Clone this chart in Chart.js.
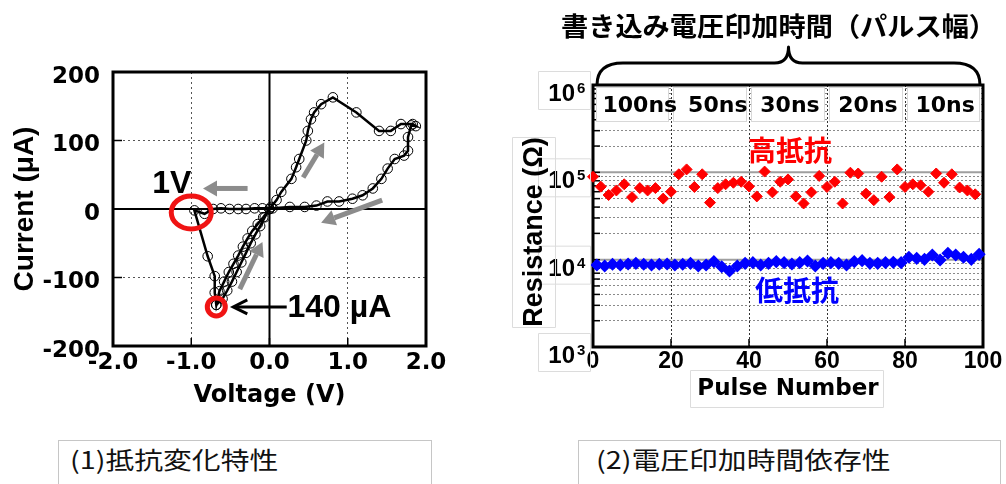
<!DOCTYPE html>
<html>
<head>
<meta charset="utf-8">
<script src="https://cdn.jsdelivr.net/npm/chart.js@4.4.0/dist/chart.umd.min.js"></script>
<style>
  html, body { margin: 0; padding: 0; background: #fff; }
  body { width: 1006px; height: 484px; position: relative; overflow: hidden; }
  .panel { position: absolute; top: 0; height: 420px; }
  #ivWrap { left: 0; width: 500px; }
  #pulseWrap { left: 500px; width: 506px; }
  .caption { position: absolute; top: 440px; height: 60px; border: 1px solid #c6c6c6; box-sizing: border-box; }
  .caption span { position: absolute; top: 4px; display: inline-block; font: 24px "Noto Sans CJK JP", sans-serif;
                  line-height: 28px; color: #111; white-space: nowrap; transform: scaleX(1.2); transform-origin: 0 50%; }
</style>
</head>
<body>
<div class="panel" id="ivWrap"><canvas id="iv"></canvas></div>
<div class="panel" id="pulseWrap"><canvas id="pulse"></canvas></div>
<div class="caption" style="left:58px;width:374px"><span style="left:11px">(1)抵抗変化特性</span></div>
<div class="caption" style="left:578px;width:423px"><span style="left:17px">(2)電圧印加時間依存性</span></div>

<script>
// ---- I-V sweep (voltage in V, current in µA) ----
const sweepVoltage = [0, 0.02, 0.09, 0.15, 0.28, 0.34, 0.38, 0.47, 0.49, 0.53, 0.57, 0.66, 0.81, 1.11, 1.40, 1.55, 1.68, 1.83, 1.87,
  1.81, 1.77, 1.77, 1.72, 1.60, 1.51, 1.43, 1.32, 1.19, 1.06, 0.89, 0.74, 0.60, 0.45, 0.26, 0.04,
  -0.09, -0.19, -0.30, -0.40, -0.51, -0.62, -0.72, -0.83, -0.96,
  -0.79, -0.70, -0.70, -0.68,
  -0.64, -0.58, -0.52, -0.46, -0.40, -0.34, -0.28, -0.22, -0.15, -0.08, 0];
const sweepCurrent = [0, 3, 13, 25, 44, 61, 73, 100, 114, 131, 141, 153, 163, 141, 114, 114, 124, 124, 121,
  122, 105, 85, 78, 73, 59, 44, 30, 20, 15, 11, 11, 5, 3, 3, 1,
  1, 1, 0, 0, 0, 1, 0, -7, -2,
  -69, -98, -122, -140,
  -120, -106, -92, -80, -68, -55, -43, -32, -22, -12, 0];
// second pass of the SET branch back to 0 V
const returnVoltage = [-0.68, -0.60, -0.54, -0.48, -0.42, -0.36, -0.30, -0.24, -0.18, -0.12, -0.06, 0];
const returnCurrent = [-140, -131, -119, -106, -92, -78, -64, -50, -37, -25, -12, 0];
const voltageTicks = [-2, -1, 0, 1, 2];
const currentTicks = [-200, -100, 0, 100, 200];

// ---- pulse endurance (Ω) ----
const highPulse = [0, 2, 4, 6, 8, 10, 12, 14, 16, 18, 20, 22, 24, 26, 28, 30, 32, 34, 36, 38, 40, 42, 44, 46, 48,
  50, 52, 54, 56, 58, 60, 62, 64, 66, 68, 70, 72, 74, 76, 78, 80, 82, 84, 86, 88, 90, 92, 94, 96, 98];
const highResistance = [89000, 68500, 55000, 62000, 73000, 52000, 66000, 62000, 66000, 50000, 60000, 95000, 108000,
  68000, 95000, 45000, 66000, 73000, 76000, 78000, 69000, 53000, 102000, 59000, 78000, 83000, 53000, 44000, 59000,
  91000, 68000, 78000, 44000, 99000, 97000, 57000, 48000, 89000, 52000, 108000, 68000, 73000, 71000, 60000, 97000,
  76000, 95000, 67000, 62000, 56000];
const lowPulse = [1, 3, 5, 7, 9, 11, 13, 15, 17, 19, 21, 23, 25, 27, 29, 31, 33, 35, 37, 39, 41, 43, 45, 47, 49,
  51, 53, 55, 57, 59, 61, 63, 65, 67, 69, 71, 73, 75, 77, 79, 81, 83, 85, 87, 89, 91, 93, 95, 97, 99];
const lowResistance = [8690, 8460, 8850, 8690, 8920, 9080, 8850, 8690, 8850, 8920, 8690, 8850, 9080, 8460, 8690,
  9490, 8310, 7420, 8460, 9080, 9240, 8690, 9080, 9490, 9240, 8920, 9240, 9660, 8460, 9080, 9240, 9080, 8690,
  9490, 9740, 9080, 9080, 9240, 9320, 9240, 10640, 10360, 10090, 11300, 9910, 11830, 11300, 10640, 10090, 11510];
const pulseWidthLabels = ['100ns', '50ns', '30ns', '20ns', '10ns'];
const pulseGroupEdges = [0, 20, 40, 60, 80, 100];
const resistanceDecades = [1e3, 1e4, 1e5, 1e6];
const decadeSteps = [1, 2, 3, 4, 5, 6, 7, 8, 9];

const BOLD_ARIAL = '"Liberation Sans", Arial, sans-serif';
const BOLD_WIDE = '"DejaVu Sans", Verdana, sans-serif';
const CJK = '"Noto Sans CJK JP", sans-serif';

function pairs(xs, ys) { return xs.map((x, i) => ({ x, y: ys[i] })); }

function filledArrow(ctx, x1, y1, x2, y2, color, width, headLen, headHalf) {
  const a = Math.atan2(y2 - y1, x2 - x1);
  const bx = x2 - Math.cos(a) * headLen, by = y2 - Math.sin(a) * headLen;
  ctx.strokeStyle = color; ctx.fillStyle = color; ctx.lineWidth = width;
  ctx.beginPath(); ctx.moveTo(x1, y1); ctx.lineTo(bx, by); ctx.stroke();
  ctx.beginPath(); ctx.moveTo(x2, y2);
  ctx.lineTo(bx + Math.sin(a) * headHalf, by - Math.cos(a) * headHalf);
  ctx.lineTo(bx - Math.sin(a) * headHalf, by + Math.cos(a) * headHalf);
  ctx.closePath(); ctx.fill();
}

// text squeezed or stretched horizontally to a given width
function fitText(ctx, text, cx, cy, width) {
  const w = ctx.measureText(text).width;
  ctx.save();
  ctx.translate(cx, cy);
  ctx.scale(width / w, 1);
  ctx.textAlign = 'center';
  ctx.fillText(text, 0, 0);
  ctx.restore();
}

// ---------------- left panel: I-V loop ----------------
const ivDecor = {
  id: 'ivDecor',
  beforeDatasetsDraw(chart) {
    const { ctx, chartArea: a, scales: { x, y } } = chart;
    ctx.save();
    ctx.strokeStyle = '#000';
    ctx.lineWidth = 2;
    const x0 = x.getPixelForValue(0), y0 = y.getPixelForValue(0);
    ctx.beginPath(); ctx.moveTo(x0, a.top); ctx.lineTo(x0, a.bottom); ctx.stroke();
    ctx.beginPath(); ctx.moveTo(a.left, y0); ctx.lineTo(a.right, y0); ctx.stroke();
    ctx.lineWidth = 1.5;
    y.ticks.forEach(t => {
      if (t.value <= y.min || t.value >= y.max) return;
      const py = y.getPixelForValue(t.value);
      ctx.beginPath(); ctx.moveTo(a.left, py); ctx.lineTo(a.left + 9, py); ctx.stroke();
    });
    x.ticks.forEach(t => {
      if (t.value <= x.min || t.value >= x.max) return;
      const px = x.getPixelForValue(t.value);
      ctx.beginPath(); ctx.moveTo(px, a.bottom); ctx.lineTo(px, a.bottom - 8); ctx.stroke();
    });
    ctx.lineWidth = 3;
    ctx.strokeRect(a.left, a.top, a.right - a.left, a.bottom - a.top);
    ctx.restore();
  },
  afterDatasetsDraw(chart) {
    const { ctx, scales: { x, y } } = chart;
    const X = v => x.getPixelForValue(v), Y = v => y.getPixelForValue(v);
    ctx.save();
    // sweep direction arrows
    const grey = '#8c8c8c';
    [[-0.28, 30, -0.85, 30], [0.43, 46, 0.70, 97], [1.44, 13, 0.66, -20], [-0.38, -117, -0.09, -48]]
      .forEach(([a1, b1, a2, b2]) => filledArrow(ctx, X(a1), Y(b1), X(a2), Y(b2), grey, 5, 14, 8));
    // RESET onset and SET compliance markers
    ctx.strokeStyle = '#f01414';
    ctx.lineWidth = 5;
    ctx.beginPath(); ctx.ellipse(X(-1.0), Y(-5), 20, 16.5, 0, 0, Math.PI * 2); ctx.stroke();
    const minI = Math.min(...sweepCurrent);
    const minV = sweepVoltage[sweepCurrent.indexOf(minI)];
    ctx.beginPath(); ctx.arc(X(minV), Y(minI) + 2, 9, 0, Math.PI * 2); ctx.stroke();
    // labels
    ctx.fillStyle = '#000';
    ctx.font = 'bold 32px ' + BOLD_ARIAL;
    ctx.textAlign = 'left'; ctx.textBaseline = 'alphabetic';
    ctx.fillText('1V', X(-1.5), Y(23));
    ctx.fillText(Math.abs(minI) + ' µA', X(0.23), Y(minI) + 12);
    // pointer to the compliance point
    const ty = Y(minI) + 2, tipX = X(minV) + 17, tailX = X(0.22);
    ctx.strokeStyle = '#000'; ctx.lineWidth = 3;
    ctx.beginPath(); ctx.moveTo(tailX, ty); ctx.lineTo(tipX + 1, ty); ctx.stroke();
    ctx.beginPath(); ctx.moveTo(tipX + 14, ty - 7); ctx.lineTo(tipX, ty); ctx.lineTo(tipX + 14, ty + 7); ctx.stroke();
    ctx.restore();
  }
};

new Chart(document.getElementById('iv'), {
  type: 'scatter',
  data: {
    datasets: [
      { data: pairs(sweepVoltage, sweepCurrent), showLine: true },
      { data: pairs(returnVoltage, returnCurrent), showLine: true }
    ].map(d => Object.assign(d, {
      borderColor: '#000', borderWidth: 2.5, pointRadius: 4.8, pointStyle: 'circle',
      pointBackgroundColor: 'rgba(0,0,0,0)', pointBorderColor: '#000', pointBorderWidth: 1, clip: false
    }))
  },
  options: {
    responsive: true, maintainAspectRatio: false, animation: false,
    layout: { padding: { top: 72, right: 74, bottom: 0, left: 0 } },
    plugins: { legend: { display: false }, tooltip: { enabled: false } },
    scales: {
      x: {
        type: 'linear', min: -2, max: 2,
        afterFit(s) { s.height = 74; },
        afterBuildTicks(s) { s.ticks = voltageTicks.map(v => ({ value: v })); },
        ticks: { padding: 3, color: '#000', maxRotation: 0, autoSkip: false,
                 font: { family: BOLD_WIDE, weight: 'bold', size: 23 }, callback: v => Number(v).toFixed(1) },
        grid: { drawTicks: false, lineWidth: 1, color: c => Math.abs(c.tick.value) === 1 ? '#555' : 'rgba(0,0,0,0)' },
        border: { display: false, dash: [2, 3] },
        title: { display: true, text: 'Voltage (V)', color: '#000',
                 font: { family: BOLD_WIDE, weight: 'bold', size: 24 }, padding: { top: 0, bottom: 10 } }
      },
      y: {
        type: 'linear', min: -200, max: 200,
        afterFit(s) { s.width = 113; },
        afterBuildTicks(s) { s.ticks = currentTicks.map(v => ({ value: v })); },
        ticks: { padding: 13, labelOffset: 5, color: '#000', font: { family: BOLD_WIDE, weight: 'bold', size: 23 },
                 callback: v => String(v) },
        grid: { drawTicks: false, lineWidth: 1, color: c => Math.abs(c.tick.value) === 100 ? '#555' : 'rgba(0,0,0,0)' },
        border: { display: false, dash: [2, 3] },
        title: { display: true, text: 'Current (μA)', color: '#000',
                 font: { family: BOLD_ARIAL, weight: 'bold', size: 28 }, padding: { top: 8, bottom: 0 } }
      }
    }
  },
  plugins: [ivDecor]
});

// ---------------- right panel: pulse endurance ----------------
const pulseDecor = {
  id: 'pulseDecor',
  beforeDatasetsDraw(chart) {
    const { ctx, chartArea: a, scales: { x, y } } = chart;
    ctx.save();
    // decade lines
    ctx.strokeStyle = '#9f9f9f'; ctx.lineWidth = 2;
    resistanceDecades.forEach(v => {
      if (v <= y.min || v >= y.max) return;
      const py = y.getPixelForValue(v);
      ctx.beginPath(); ctx.moveTo(a.left, py); ctx.lineTo(a.right, py); ctx.stroke();
    });
    // inward tick marks
    ctx.strokeStyle = '#000'; ctx.lineWidth = 1.5;
    y.ticks.forEach(t => {
      if (t.value <= y.min || t.value >= y.max) return;
      const py = y.getPixelForValue(t.value);
      ctx.beginPath(); ctx.moveTo(a.left, py); ctx.lineTo(a.left + 7, py); ctx.stroke();
    });
    x.ticks.forEach(t => {
      if (t.value <= x.min || t.value >= x.max) return;
      const px = x.getPixelForValue(t.value);
      ctx.beginPath(); ctx.moveTo(px, a.bottom); ctx.lineTo(px, a.bottom - 8); ctx.stroke();
    });
    // pulse-width band across the top decade
    const bandTop = a.top + 2, bandBottom = a.top + 37;
    const labelAt = [12, 32, 50.5, 70.5, 90.3];
    ctx.font = 'bold 22px ' + BOLD_WIDE;
    ctx.textAlign = 'center'; ctx.textBaseline = 'middle';
    for (let i = 0; i < pulseWidthLabels.length; i++) {
      const x0 = x.getPixelForValue(pulseGroupEdges[i]) + (i === 0 ? 3 : 2);
      const x1 = x.getPixelForValue(pulseGroupEdges[i + 1]) - (i === pulseWidthLabels.length - 1 ? 3 : 2);
      ctx.fillStyle = '#fff';
      ctx.fillRect(x0, bandTop, x1 - x0, bandBottom - bandTop);
      ctx.strokeStyle = '#d8d8d8'; ctx.lineWidth = 1;
      ctx.strokeRect(x0 + 0.5, bandTop + 0.5, x1 - x0 - 1, bandBottom - bandTop - 1);
    }
    ctx.fillStyle = '#000';
    pulseWidthLabels.forEach((t, i) => ctx.fillText(t, x.getPixelForValue(labelAt[i]), a.top + 21));
    // frame
    ctx.strokeStyle = '#000'; ctx.lineWidth = 3;
    ctx.strokeRect(a.left, a.top, a.right - a.left, a.bottom - a.top);
    ctx.restore();
  },
  afterDraw(chart) {
    const { ctx, chartArea: a, scales: { x, y } } = chart;
    ctx.save();
    // brace spanning all pulse widths
    const L = a.left + 4, R = a.right - 3, M = (L + R) / 2, arm = a.top - 22, peak = a.top - 38;
    ctx.strokeStyle = '#000'; ctx.lineWidth = 3; ctx.lineJoin = 'round';
    ctx.beginPath();
    ctx.moveTo(L, a.top);
    ctx.quadraticCurveTo(L, arm, L + 26, arm);
    ctx.lineTo(M - 14, arm);
    ctx.quadraticCurveTo(M, arm, M, peak);
    ctx.quadraticCurveTo(M, arm, M + 14, arm);
    ctx.lineTo(R - 26, arm);
    ctx.quadraticCurveTo(R, arm, R, a.top);
    ctx.stroke();
    ctx.fillStyle = '#000';
    ctx.font = 'bold 26px ' + CJK;
    ctx.textBaseline = 'middle';
    fitText(ctx, '書き込み電圧印加時間（パルス幅）', M - 10, 26, 435);

    // decade tick labels with superscripts
    ctx.strokeStyle = '#dcdcdc'; ctx.lineWidth = 1;
    resistanceDecades.forEach(v => {
      const py = y.getPixelForValue(v);
      ctx.strokeRect(38.5, py - 13.5, 52, 38);
    });
    ctx.fillStyle = '#000';
    resistanceDecades.forEach(v => {
      const py = y.getPixelForValue(v);
      ctx.textBaseline = 'alphabetic';
      ctx.textAlign = 'right';
      ctx.font = 'bold 24px ' + BOLD_ARIAL;
      ctx.fillText('10', 75, py + 16);
      ctx.textAlign = 'left';
      ctx.font = 'bold 15px ' + BOLD_ARIAL;
      ctx.fillText(String(Math.round(Math.log10(v))), 77, py + 8);
    });

    // axis title
    ctx.strokeRect(12.5, 137.5, 43, 190);
    ctx.save();
    ctx.translate(35, 232); ctx.rotate(-Math.PI / 2);
    ctx.font = 'bold 27px ' + BOLD_ARIAL;
    ctx.textAlign = 'center'; ctx.textBaseline = 'middle';
    ctx.fillText('Resistance (Ω)', 0, 0);
    ctx.restore();
    ctx.strokeRect(190.5, 370.5, 193, 37);

    // state labels
    ctx.font = 'bold 28px ' + CJK;
    ctx.textAlign = 'center'; ctx.textBaseline = 'middle';
    ctx.fillStyle = '#ff0000';
    ctx.fillText('高抵抗', x.getPixelForValue(50.5), y.getPixelForValue(1.8e5));
    ctx.fillStyle = '#0000ff';
    ctx.fillText('低抵抗', x.getPixelForValue(52.3), y.getPixelForValue(4500));
    ctx.restore();
  }
};

const resistanceGrid = resistanceDecades.slice(0, -1)
  .flatMap(d => decadeSteps.map(s => s * d))
  .concat(resistanceDecades.slice(-1));

new Chart(document.getElementById('pulse'), {
  type: 'scatter',
  data: {
    datasets: [
      { data: pairs(highPulse, highResistance), showLine: false,
        backgroundColor: '#ff0000', borderColor: '#ff0000', pointStyle: 'rectRot', pointRadius: 5.5, clip: false },
      { data: pairs(lowPulse, lowResistance), showLine: true, borderWidth: 1.5,
        backgroundColor: '#0000ff', borderColor: '#0000ff', pointStyle: 'rectRot', pointRadius: 5.5, clip: false }
    ]
  },
  options: {
    responsive: true, maintainAspectRatio: false, animation: false,
    layout: { padding: { top: 85, right: 23, bottom: 0, left: 0 } },
    plugins: { legend: { display: false }, tooltip: { enabled: false } },
    scales: {
      x: {
        type: 'linear', min: 0, max: 100,
        afterFit(s) { s.height = 73; },
        ticks: { stepSize: 20, padding: 1, color: '#000', maxRotation: 0, autoSkip: false,
                 font: { family: BOLD_ARIAL, weight: 'bold', size: 23 } },
        grid: { drawTicks: false, lineWidth: 1,
                color: c => (c.tick.value > 0 && c.tick.value < 100) ? '#333' : 'rgba(0,0,0,0)' },
        border: { display: false, dash: [2, 2] },
        title: { display: true, text: 'Pulse Number', color: '#000',
                 font: { family: BOLD_WIDE, weight: 'bold', size: 23 }, padding: { top: 0, bottom: 17 } }
      },
      y: {
        type: 'logarithmic', min: 1e3, max: 1e6,
        afterFit(s) { s.width = 93; },
        afterBuildTicks(s) { s.ticks = resistanceGrid.map(v => ({ value: v })); },
        ticks: { display: false },
        grid: { drawTicks: false, lineWidth: 1,
                color: c => resistanceDecades.includes(c.tick.value) ? 'rgba(0,0,0,0)' : '#8a8a8a' },
        border: { display: false, dash: [2, 2] }
      }
    }
  },
  plugins: [pulseDecor]
});
</script>
</body>
</html>
